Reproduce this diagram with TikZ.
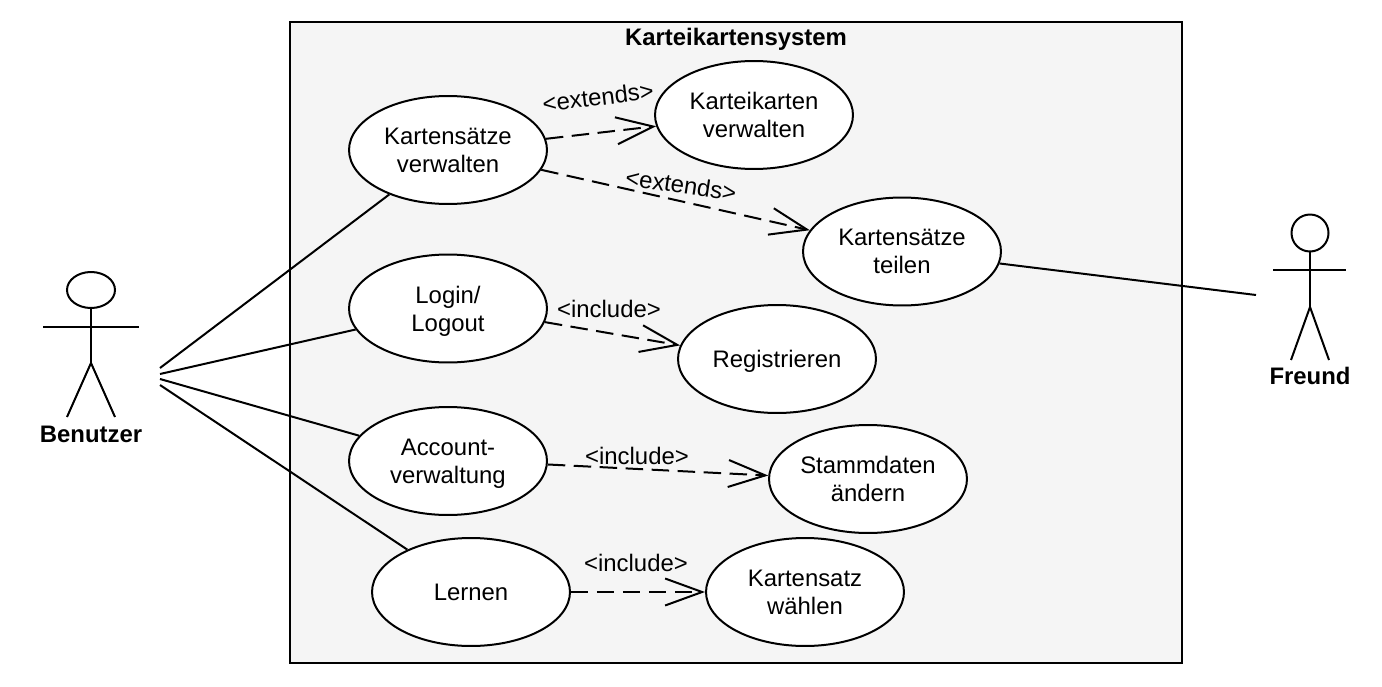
\documentclass[tikz,border=0pt]{standalone}
\usepackage{fontspec}
\setmainfont{Liberation Sans}
\usetikzlibrary{shapes.geometric, arrows.meta}

\tikzset{
  usecase/.style={draw, fill=white, ellipse, line width=0.04cm, inner sep=0pt,
    minimum width=3.96cm, minimum height=2.16cm, align=center, text depth=0pt,
    font=\fontsize{13.6}{15.9}\selectfont},
  stereotype/.style={font=\fontsize{13.6}{15.9}\selectfont, inner sep=0pt},
  actorname/.style={font=\fontsize{13.6}{15.9}\selectfont\bfseries, inner sep=0pt, text depth=0pt},
  assoc/.style={line width=0.04cm},
  dep/.style={->, line width=0.04cm, dash pattern=on 0.35cm off 0.17cm},
  limb/.style={line width=0.04cm},
}
\definecolor{systemgray}{HTML}{F5F5F5}

\begin{document}
\begin{tikzpicture}[x=0.02cm, y=-0.02cm,
    >={Straight Barb[length=0.74cm, width=0.54cm, line width=0.04cm]}]
  \useasboundingbox (0,0) rectangle (1382,686);

  % System boundary
  \node[draw, fill=systemgray, line width=0.04cm, inner sep=0pt, minimum width=17.84cm,
    minimum height=12.82cm] (system) at (736,342.5) {};
  \node[actorname] (systemtitle) at (736,37) {Karteikartensystem};

  % Use cases
  \node[usecase] (saetze) at (448,150) {Kartensätze\\verwalten};
  \node[usecase] (karten) at (754,115) {Karteikarten\\verwalten};
  \node[usecase] (teilen) at (902,251.5) {Kartensätze\\teilen};
  \node[usecase] (login) at (448,308.5) {Login/\\Logout};
  \node[usecase] (registrieren) at (777,359) {Registrieren};
  \node[usecase] (account) at (448,461) {Account-\\verwaltung};
  \node[usecase] (stammdaten) at (868,479) {Stammdaten\\ändern};
  \node[usecase] (lernen) at (471,592) {Lernen};
  \node[usecase] (waehlen) at (805,592) {Kartensatz\\wählen};

  % Actor Benutzer
  \node[draw, ellipse, line width=0.04cm, inner sep=0pt, minimum width=0.96cm,
    minimum height=0.72cm] (benutzerhead) at (91,290) {};
  \coordinate (benutzerhip) at (91,363);
  \draw[limb] (benutzerhead.south) -- (benutzerhip);
  \draw[limb] (43,327) -- (139,327);
  \draw[limb] (67,417) -- (benutzerhip) -- (115,417);
  \node[actorname] (benutzer) at (91,434) {Benutzer};

  % Actor Freund
  \node[draw, ellipse, line width=0.04cm, inner sep=0pt, minimum width=0.74cm,
    minimum height=0.74cm] (freundhead) at (1310,233) {};
  \coordinate (freundhip) at (1310,307);
  \draw[limb] (freundhead.south) -- (freundhip);
  \draw[limb] (1273,270) -- (1346,270);
  \draw[limb] (1291,360) -- (freundhip) -- (1329,360);
  \node[actorname] (freund) at (1310,376) {Freund};

  % Associations
  \coordinate (bsaetze) at (160,368);
  \coordinate (blogin) at (160,374);
  \coordinate (baccount) at (160,379);
  \coordinate (blernen) at (160,385);
  \coordinate (fteilen) at (1256,295);
  \draw[assoc] (bsaetze) -- (saetze);
  \draw[assoc] (blogin) -- (login);
  \draw[assoc] (baccount) -- (account);
  \draw[assoc] (blernen) -- (lernen);
  \draw[assoc] (teilen.-7) -- (fteilen);

  % Dependencies
  \draw[dep] (saetze) -- (karten);
  \draw[dep] (saetze.-12) -- (teilen.167);
  \draw[dep] (login.-8) -- (registrieren.172);
  \draw[dep] (account.-2) -- (stammdaten.178);
  \draw[dep] (lernen) -- (waehlen);

  % Stereotypes
  \node[stereotype, rotate=7] (ext1) at (598,97) {<extends>};
  \node[stereotype, rotate=-8.5] (ext2) at (681,185) {<extends>};
  \node[stereotype] (inc1) at (609,309) {<include>};
  \node[stereotype] (inc2) at (637,456) {<include>};
  \node[stereotype] (inc3) at (636,563) {<include>};
\end{tikzpicture}
\end{document}
